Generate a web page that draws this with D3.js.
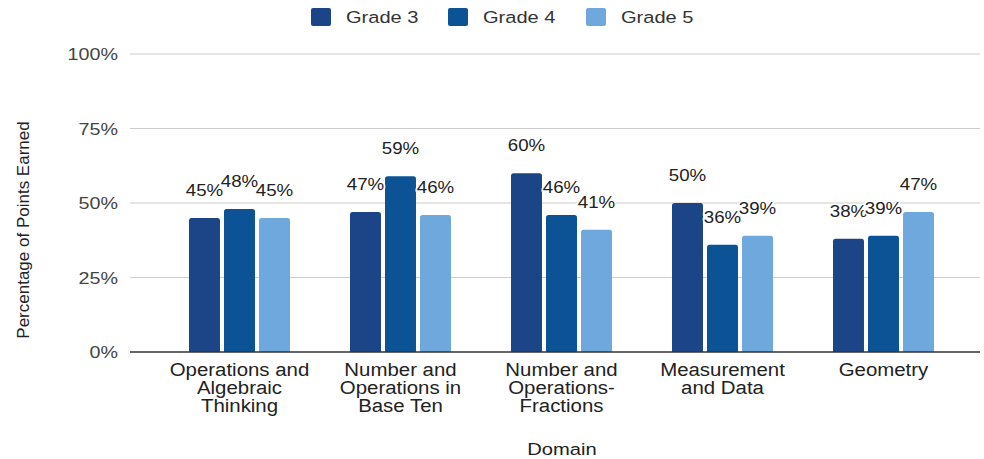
<!DOCTYPE html>
<html><head><meta charset="utf-8">
<script src="https://cdn.jsdelivr.net/npm/d3@7"></script>
<style>html,body{margin:0;padding:0;background:#fff}svg{display:block}</style>
</head><body>
<svg id="chart" width="984" height="459"></svg>
<script>
const categories = [
  ["Operations and","Algebraic","Thinking"],
  ["Number and","Operations in","Base Ten"],
  ["Number and","Operations-","Fractions"],
  ["Measurement","and Data"],
  ["Geometry"]
];
const seriesNames = ["Grade 3","Grade 4","Grade 5"];
const grade3 = [45, 47, 60, 50, 38];
const grade4 = [48, 59, 46, 36, 39];
const grade5 = [45, 46, 41, 39, 47];
const yTicks = [0, 25, 50, 75, 100];
const colors = ["#1c4587", "#0b5394", "#6fa8dc"];
const xTitle = "Domain";
const yTitle = "Percentage of Points Earned";

const series = [grade3, grade4, grade5];
const svg = d3.select("#chart");
const SX = 1.16;
const font = "Arial, 'Liberation Sans', Helvetica, sans-serif";

const x0 = d3.scaleBand().domain(d3.range(categories.length)).range([159, 964]).paddingInner(0).paddingOuter(0);
const groupW = 101;
const x1 = d3.scaleBand().domain(d3.range(series.length)).range([0, groupW]).paddingInner(0.115).paddingOuter(0);
const y = d3.scaleLinear().domain([0, 100]).range([352, 54]);

// gridlines
svg.append("g").selectAll("line").data(yTicks.filter(t => t > 0)).join("line")
  .attr("x1", 130).attr("x2", 980)
  .attr("y1", d => y(d)).attr("y2", d => y(d))
  .attr("stroke", "#cccccc").attr("stroke-width", 1);

// y tick labels
svg.append("g").selectAll("text").data(yTicks).join("text")
  .attr("transform", d => `translate(118,${y(d) + 6}) scale(${SX},1)`)
  .attr("text-anchor", "end")
  .attr("font-family", font).attr("font-size", 17).attr("fill", "#444")
  .text(d => d + "%");

// bars
const groups = svg.append("g").selectAll("g").data(categories).join("g")
  .attr("transform", (d, i) => `translate(${x0(i) + (x0.bandwidth() - groupW) / 2},0)`);

function topRounded(x, yTop, w, h, r) {
  r = Math.min(r, h);
  return `M${x},${yTop + h}V${yTop + r}Q${x},${yTop} ${x + r},${yTop}H${x + w - r}Q${x + w},${yTop} ${x + w},${yTop + r}V${yTop + h}Z`;
}

groups.each(function (c, i) {
  const g = d3.select(this);
  series.forEach((s, k) => {
    const v = s[i];
    g.append("path")
      .attr("d", topRounded(x1(k), y(v), x1.bandwidth(), y(0) - y(v), 2.5))
      .attr("fill", colors[k]);
  });
});

// axis line
svg.append("line").attr("x1", 130).attr("x2", 980).attr("y1", y(0)).attr("y2", y(0))
  .attr("stroke", "#333").attr("stroke-width", 1.3);

// value labels
groups.each(function (c, i) {
  const g = d3.select(this);
  series.forEach((s, k) => {
    const v = s[i];
    g.append("text")
      .attr("transform", `translate(${x1(k) + x1.bandwidth() / 2},${y(v) - 22}) scale(1.1,1)`)
      .attr("text-anchor", "middle")
      .attr("font-family", font).attr("font-size", 17).attr("fill", "#222")
      .attr("stroke", "#fff").attr("stroke-width", 3).attr("paint-order", "stroke")
      .text(v + "%");
  });
});

// category labels
groups.each(function (c, i) {
  const g = d3.select(this);
  c.forEach((line, j) => {
    g.append("text")
      .attr("transform", `translate(${groupW / 2},${376 + j * 18}) scale(${SX},1)`)
      .attr("text-anchor", "middle")
      .attr("font-family", font).attr("font-size", 17.6).attr("fill", "#222")
      .text(line);
  });
});

// axis titles
svg.append("text")
  .attr("transform", `translate(562,455) scale(${SX},1)`)
  .attr("text-anchor", "middle")
  .attr("font-family", font).attr("font-size", 17.4).attr("fill", "#222")
  .text(xTitle);

svg.append("text")
  .attr("transform", `translate(29,230) rotate(-90)`)
  .attr("text-anchor", "middle")
  .attr("font-family", font).attr("font-size", 17).attr("fill", "#222")
  .text(yTitle);

// legend
const legendX = [311, 448, 586];
const lg = svg.append("g").selectAll("g").data(seriesNames).join("g")
  .attr("transform", (d, i) => `translate(${legendX[i]},8)`);
lg.append("rect").attr("width", 20).attr("height", 18).attr("rx", 2).attr("fill", (d, i) => colors[i]);
lg.append("text")
  .attr("transform", `translate(35,15) scale(${SX},1)`)
  .attr("font-family", font).attr("font-size", 17.3).attr("fill", "#333")
  .text(d => d);
</script>
</body></html>
